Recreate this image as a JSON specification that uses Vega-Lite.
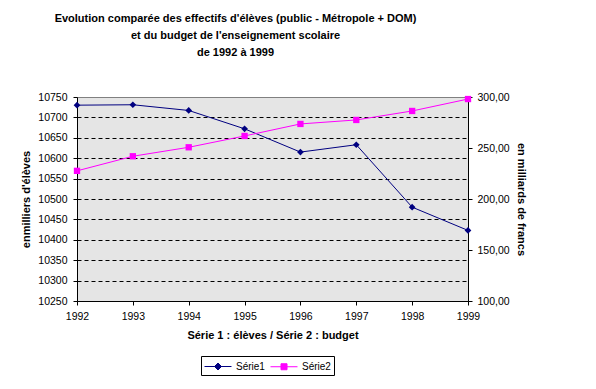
{
  "$schema": "https://vega.github.io/schema/vega-lite/v6.json",
  "width": 391,
  "height": 204,
  "autosize": "none",
  "padding": {"left": 77, "top": 97, "right": 128, "bottom": 88},
  "background": "white",
  "title": {
    "text": ["Evolution comparée des effectifs d'élèves (public - Métropole + DOM)", "et du budget de l'enseignement scolaire", "de 1992 à 1999"],
    "font": "Liberation Sans",
    "fontSize": 11,
    "fontWeight": "bold",
    "lineHeight": 17,
    "anchor": "middle",
    "frame": "group",
    "dx": -37,
    "offset": 34,
    "color": "black"
  },
  "data": {
    "values": [
      {"annee": 1992, "serie": "Série1", "valeur": 10730},
      {"annee": 1993, "serie": "Série1", "valeur": 10731},
      {"annee": 1994, "serie": "Série1", "valeur": 10717},
      {"annee": 1995, "serie": "Série1", "valeur": 10672},
      {"annee": 1996, "serie": "Série1", "valeur": 10615},
      {"annee": 1997, "serie": "Série1", "valeur": 10633},
      {"annee": 1998, "serie": "Série1", "valeur": 10480},
      {"annee": 1999, "serie": "Série1", "valeur": 10423},
      {"annee": 1992, "serie": "Série2", "valeur": 227.6},
      {"annee": 1993, "serie": "Série2", "valeur": 241.9},
      {"annee": 1994, "serie": "Série2", "valeur": 250.7},
      {"annee": 1995, "serie": "Série2", "valeur": 261.8},
      {"annee": 1996, "serie": "Série2", "valeur": 273.6},
      {"annee": 1997, "serie": "Série2", "valeur": 277.5},
      {"annee": 1998, "serie": "Série2", "valeur": 286.3},
      {"annee": 1999, "serie": "Série2", "valeur": 298.0}
    ]
  },
  "encoding": {
    "x": {
      "field": "annee",
      "type": "quantitative",
      "scale": {"domain": [1992, 1999], "nice": false, "zero": false},
      "axis": {
        "values": [1992, 1993, 1994, 1995, 1996, 1997, 1998, 1999],
        "format": "d",
        "title": "Série 1 : élèves / Série 2 : budget",
        "grid": false,
        "tickSize": 4,
        "labelPadding": 6,
        "titlePadding": 8,
        "labelFlush": false,
        "labelOverlap": false
      }
    },
    "color": {
      "field": "serie",
      "type": "nominal",
      "scale": {"domain": ["Série1", "Série2"], "range": ["#000080", "#ff00ff"]},
      "legend": {
        "orient": "none",
        "legendX": 124,
        "legendY": 259,
        "direction": "horizontal",
        "title": null,
        "strokeColor": "black",
        "fillColor": "white",
        "padding": 3,
        "labelFont": "Liberation Sans",
        "labelFontSize": 10,
        "labelColor": "black",
        "symbolSize": 196,
        "labelOffset": 17,
        "columnPadding": 3,
        "encode": {
          "symbols": {
            "update": {
              "shape": {"signal": "datum.value === 'Série1' ? 'M-1,0H2.857M0.93,-0.5L1.43,0L0.93,0.5L0.43,0Z' : 'M-1,0H2.857M0.5,-0.43H1.36V0.43H0.5Z'"},
              "fill": {"signal": "datum.value === 'Série1' ? '#000080' : '#ff00ff'"},
              "stroke": {"signal": "datum.value === 'Série1' ? '#000080' : '#ff00ff'"},
              "strokeWidth": {"value": 1},
              "opacity": {"value": 1}
            }
          }
        }
      }
    }
  },
  "layer": [
    {
      "transform": [{"filter": "datum.serie == 'Série1'"}],
      "mark": {"type": "line", "strokeWidth": 1, "point": {"filled": true, "shape": "diamond", "size": 45, "opacity": 1}},
      "encoding": {
        "y": {
          "field": "valeur",
          "type": "quantitative",
          "scale": {"domain": [10250, 10750], "nice": false, "zero": false},
          "axis": {
            "orient": "left",
            "values": [10250, 10300, 10350, 10400, 10450, 10500, 10550, 10600, 10650, 10700, 10750],
            "format": "d",
            "title": "enmilliers d'élèves",
            "grid": true,
            "gridColor": "black",
            "gridDash": [4, 3],
            "gridWidth": 1,
            "gridOpacity": {"condition": {"test": "datum.value == 10750 || datum.value == 10250", "value": 0}, "value": 1},
            "tickSize": 4,
            "labelPadding": 6,
            "titlePadding": 6
          }
        }
      }
    },
    {
      "transform": [{"filter": "datum.serie == 'Série2'"}],
      "mark": {"type": "line", "strokeWidth": 1, "point": {"filled": true, "shape": "square", "size": 40, "opacity": 1}},
      "encoding": {
        "y": {
          "field": "valeur",
          "type": "quantitative",
          "scale": {"domain": [100, 300], "nice": false, "zero": false},
          "axis": {
            "orient": "right",
            "values": [100, 150, 200, 250, 300],
            "labelExpr": "replace(format(datum.value, '.2f'), '.', ',')",
            "title": "en milliards de francs",
            "grid": false,
            "tickSize": 4,
            "labelPadding": 5,
            "titlePadding": 6
          }
        }
      }
    }
  ],
  "resolve": {"scale": {"y": "independent"}},
  "config": {
    "view": {"fill": "#e5e5e5", "stroke": "#808080", "strokeWidth": 1},
    "axis": {
      "domainColor": "black",
      "tickColor": "black",
      "labelFont": "Liberation Sans",
      "labelFontSize": 10.5,
      "labelColor": "black",
      "titleFont": "Liberation Sans",
      "titleFontSize": 11,
      "titleFontWeight": "bold",
      "titleColor": "black"
    }
  }
}
